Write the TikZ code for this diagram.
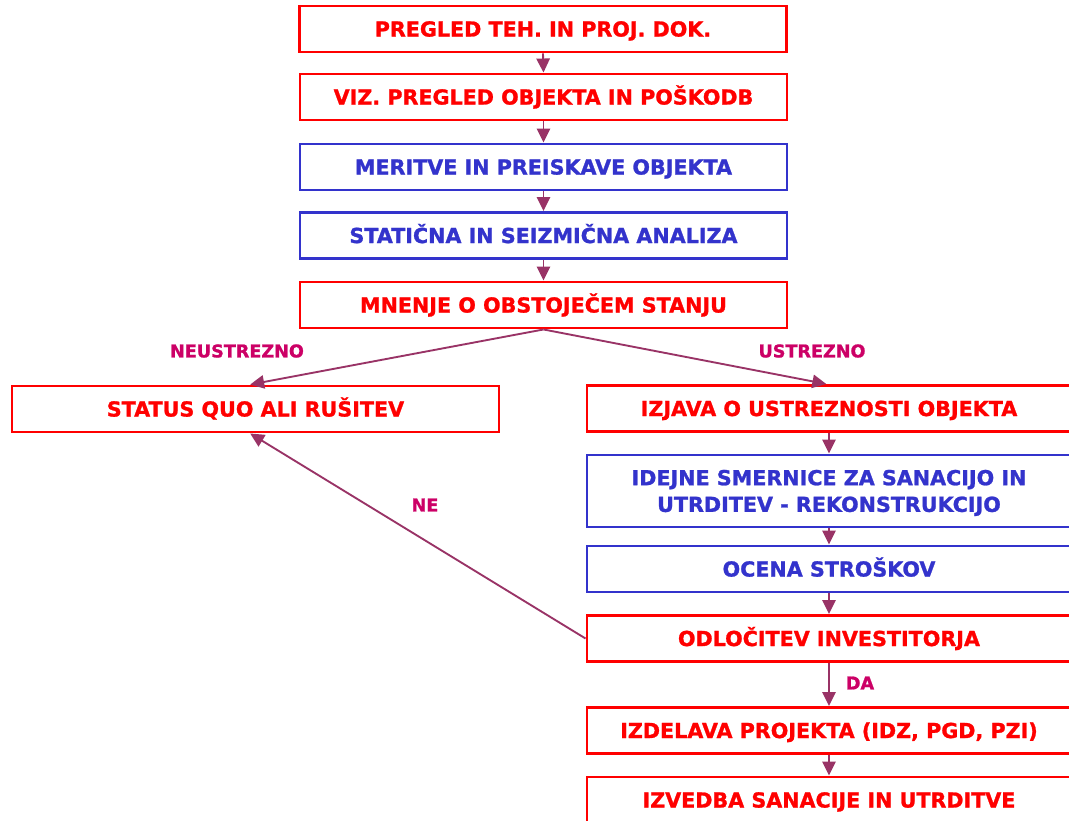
\documentclass[tikz,border=0pt]{standalone}
\usepackage{fontspec}
\setmainfont{DejaVu Sans}[BoldFeatures={FakeBold=1.2}]
\usetikzlibrary{arrows.meta}
\definecolor{boxred}{HTML}{FF0000}
\definecolor{boxblue}{HTML}{3333CC}
\definecolor{arrowcol}{HTML}{993366}
\definecolor{labelcol}{HTML}{CC0066}
\newcommand\myboxfont{\fontsize{15.5pt}{20pt}\selectfont\bfseries}
\newcommand\mylabelfont{\fontsize{13.2pt}{15pt}\selectfont\bfseries}
\tikzset{
  flowbox/.style={draw, line width=2.2pt, fill=white, inner sep=0pt, align=center,
    font=\myboxfont, minimum height=34.5pt, text height=11.3pt, text depth=0pt},
  redbox/.style={flowbox, draw=boxred, text=boxred},
  bluebox/.style={flowbox, draw=boxblue, text=boxblue},
  leftcol/.style={minimum width=365.25pt},
  rightcol/.style={minimum width=363pt},
  flowarrow/.style={draw=arrowcol, line width=1.4pt,
    -{Triangle[length=10.5pt,width=10pt]}, color=arrowcol},
  flowlabel/.style={text=labelcol, font=\mylabelfont, inner sep=0pt}
}
\begin{document}
\begin{tikzpicture}[x=0.75pt,y=-0.75pt]
\path[use as bounding box, clip] (0,0) rectangle (1069,820);
\fill[white] (0,0) rectangle (1069,820);
% left column
\node[redbox, leftcol]  (b1) at (543,29)    {PREGLED TEH. IN PROJ. DOK.};
\node[redbox, leftcol]  (b2) at (543.5,97)  {VIZ. PREGLED OBJEKTA IN POŠKODB};
\node[bluebox, leftcol] (b3) at (543.5,167) {MERITVE IN PREISKAVE OBJEKTA};
\node[bluebox, leftcol] (b4) at (543.5,235.5) {STATIČNA IN SEIZMIČNA ANALIZA};
\node[redbox, leftcol]  (b5) at (543.5,305) {MNENJE O OBSTOJEČEM STANJU};
% branches
\node[redbox, leftcol]  (st) at (255.5,409) {STATUS QUO ALI RUŠITEV};
\node[redbox, rightcol] (iz) at (829,408.5) {IZJAVA O USTREZNOSTI OBJEKTA};
\node[bluebox, rightcol, minimum height=54pt, text height=31.3pt, text depth=0pt] (id) at (829,491)
  {IDEJNE SMERNICE ZA SANACIJO IN\\UTRDITEV - REKONSTRUKCIJO};
\node[bluebox, rightcol] (oc) at (829,569) {OCENA STROŠKOV};
\node[redbox, rightcol]  (od) at (829,638.5) {ODLOČITEV INVESTITORJA};
\node[redbox, rightcol]  (pr) at (829,730.5) {IZDELAVA PROJEKTA (IDZ, PGD, PZI)};
\node[redbox, rightcol]  (sa) at (829,800) {IZVEDBA SANACIJE IN UTRDITVE};
% arrows
\draw[flowarrow] (b1.south) -- (b2.north);
\draw[flowarrow] (b2.south) -- (b3.north);
\draw[flowarrow] (b3.south) -- (b4.north);
\draw[flowarrow] (b4.south) -- (b5.north);
\draw[flowarrow] (b5.south) -- ([xshift=-4pt]st.north);
\draw[flowarrow] (b5.south) -- ([xshift=-2pt]iz.north);
\draw[flowarrow] (iz.south) -- (id.north);
\draw[flowarrow] (id.south) -- (oc.north);
\draw[flowarrow] (oc.south) -- (od.north);
\draw[flowarrow] (od.south) -- (pr.north);
\draw[flowarrow] (pr.south) -- (sa.north);
\draw[flowarrow] (od.west) -- ([xshift=-4pt]st.south);
% labels
\node[flowlabel] (lneu) at (237,351) {NEUSTREZNO};
\node[flowlabel] (lust) at (812,351) {USTREZNO};
\node[flowlabel] (lne)  at (425,505) {NE};
\node[flowlabel] (lda)  at (860,683) {DA};
\end{tikzpicture}
\end{document}
